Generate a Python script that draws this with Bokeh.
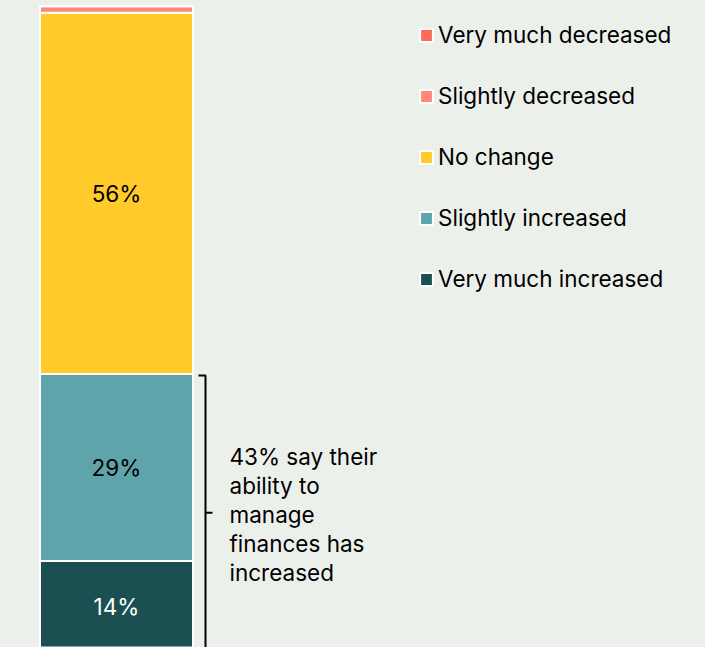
from bokeh.plotting import figure
from bokeh.models import Legend, LegendItem, GlobalInlineStyleSheet, Range1d
from bokeh.core.properties import value
from bokeh.embed import file_html
from bokeh.resources import INLINE

# ---- data ----
categories = ["Very much increased", "Slightly increased", "No change",
              "Slightly decreased", "Very much decreased"]
shares = [14, 29, 56, 1, 0]
colors = ["#1B4F52", "#5FA4AA", "#FFCA2A", "#FF8679", "#FF6A5A"]
label_colors = ["white", "black", "black", None, None]
annotation = "43% say their\nability to\nmanage\nfinances has\nincreased"

BG = "#ECF0EB"
FONT = "Inter"

W, H = 705, 647
p = figure(width=W, height=H, output_backend="svg", toolbar_location=None,
           x_range=Range1d(0, 705), y_range=Range1d(0.59, 100.9),
           min_border=0, background_fill_color=BG, border_fill_color=BG,
           outline_line_color=None)
p.xaxis.visible = False
p.yaxis.visible = False
p.grid.visible = False
p.stylesheets = [GlobalInlineStyleSheet(css=f"html,body{{margin:0;padding:0;background:{BG};}}")]

bar_x = 116
bar_w = 153
bottoms, tops = [], []
acc = 0
for v in shares:
    bottoms.append(acc)
    acc += v
    tops.append(acc)

renderers = []
for i in range(len(shares)):
    r = p.vbar(x=bar_x, width=bar_w, bottom=bottoms[i], top=tops[i],
               fill_color=colors[i], line_color="white", line_width=2)
    renderers.append(r)

# segment labels
for i, v in enumerate(shares):
    if v >= 5:
        p.text(x=[bar_x], y=[(bottoms[i] + tops[i]) / 2], text=[f"{v}%"],
               text_align="center", text_baseline="middle",
               text_font=value(FONT), text_font_size="22.5px",
               text_color=label_colors[i])

# bracket for increased
inc_top = shares[0] + shares[1]
bx, hook = 205, 198
p.line(x=[hook, bx, bx, hook], y=[inc_top - 0.25, inc_top - 0.25, 0.05, 0.05],
       line_color="black", line_width=2)
p.line(x=[bx, 212], y=[inc_top / 2, inc_top / 2], line_color="black", line_width=2)
p.text(x=[229], y=[inc_top / 2 - 0.3], text=[annotation], text_align="left",
       text_baseline="middle", text_font=value(FONT), text_font_size="22.5px",
       text_color="black", text_line_height=1.08)

# legend
items = [LegendItem(label=categories[i], renderers=[renderers[i]])
         for i in reversed(range(len(shares)))]
legend = Legend(items=items, location=(418, 355), orientation="vertical",
                background_fill_alpha=0, border_line_color=None,
                label_text_font=FONT, label_text_font_size="22.5px",
                label_text_color="black", glyph_width=16, glyph_height=16,
                label_standoff=4, spacing=34, padding=0, margin=0,
                label_height=26)
p.add_layout(legend, "center")

open("out.html", "w").write(file_html(p, INLINE))
